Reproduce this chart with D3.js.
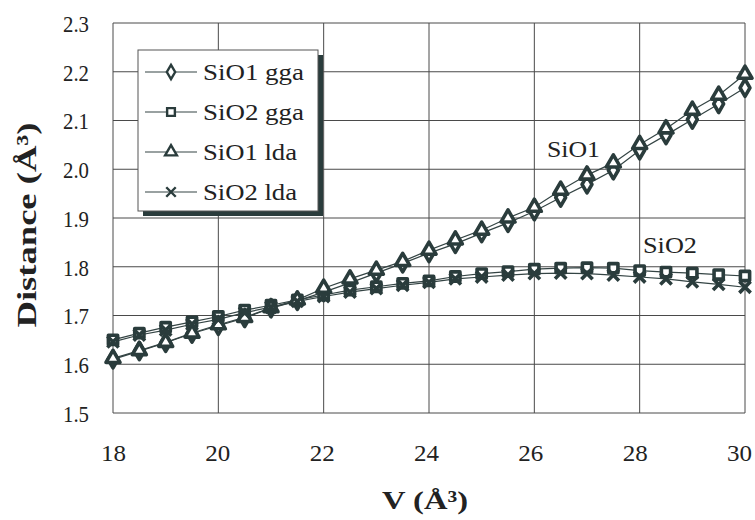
<!DOCTYPE html>
<html>
<head>
<meta charset="utf-8">
<script src="https://cdn.jsdelivr.net/npm/d3@7"></script>
<style>
  html, body { margin: 0; padding: 0; background: #fff; }
  svg text { font-family: "Liberation Serif", "Times New Roman", Times, "Nimbus Roman", "Tinos", serif; fill: #222; }
</style>
</head>
<body>
<svg id="chart" width="755" height="520"></svg>
<script>
// ---- data ----
const volumes = [18, 18.5, 19, 19.5, 20, 20.5, 21, 21.5, 22, 22.5, 23, 23.5, 24, 24.5, 25, 25.5, 26, 26.5, 27, 27.5, 28, 28.5, 29, 29.5, 30];
const sio1Gga = [1.610, 1.627, 1.644, 1.663, 1.679, 1.695, 1.715, 1.730, 1.748, 1.767, 1.787, 1.807, 1.828, 1.847, 1.869, 1.890, 1.914, 1.942, 1.969, 1.998, 2.039, 2.070, 2.102, 2.134, 2.167];
const sio2Gga = [1.650, 1.664, 1.676, 1.687, 1.698, 1.711, 1.721, 1.732, 1.742, 1.752, 1.759, 1.766, 1.771, 1.780, 1.786, 1.790, 1.795, 1.797, 1.798, 1.797, 1.792, 1.789, 1.787, 1.784, 1.781];
const sio1Lda = [1.612, 1.628, 1.645, 1.664, 1.681, 1.696, 1.716, 1.732, 1.756, 1.775, 1.793, 1.811, 1.834, 1.855, 1.875, 1.900, 1.922, 1.957, 1.988, 2.013, 2.051, 2.083, 2.121, 2.152, 2.195];
const sio2Lda = [1.646, 1.660, 1.670, 1.682, 1.692, 1.706, 1.717, 1.729, 1.739, 1.748, 1.755, 1.762, 1.768, 1.775, 1.779, 1.783, 1.786, 1.787, 1.786, 1.783, 1.779, 1.775, 1.769, 1.764, 1.758];
const seriesNames = ["SiO1 gga", "SiO2 gga", "SiO1 lda", "SiO2 lda"];
const xTicks = [18, 20, 22, 24, 26, 28, 30];
const yTicks = [1.5, 1.6, 1.7, 1.8, 1.9, 2.0, 2.1, 2.2, 2.3];
const curveLabels = ["SiO1", "SiO2"];

// ---- layout ----
const W = 755, H = 520;
const margin = {left: 113, right: 10, top: 23, bottom: 107};
const svg = d3.select("#chart");
const x = d3.scaleLinear().domain([18, 30]).range([margin.left, W - margin.right]);
const y = d3.scaleLinear().domain([1.5, 2.3]).range([H - margin.bottom, margin.top]);

const ink = "#2a3c3c";
const gridCol = "#4a4a4a";

// grid
const g = svg.append("g");
g.selectAll("line.v").data(xTicks).join("line")
  .attr("x1", d => x(d)).attr("x2", d => x(d))
  .attr("y1", y(2.3)).attr("y2", y(1.5))
  .attr("stroke", gridCol).attr("stroke-width", 1);
g.selectAll("line.h").data(yTicks).join("line")
  .attr("x1", x(18)).attr("x2", x(30))
  .attr("y1", d => y(d)).attr("y2", d => y(d))
  .attr("stroke", gridCol).attr("stroke-width", 1);

// axes with d3 (labels only)
const xAxis = d3.axisBottom(x).tickValues(xTicks).tickSize(0).tickPadding(0).tickFormat(d3.format("d"));
const yAxis = d3.axisLeft(y).tickValues(yTicks).tickSize(0).tickFormat(d3.format(".1f"));
const xa = svg.append("g").attr("transform", `translate(0,${H - margin.bottom})`).call(xAxis);
xa.select(".domain").remove();
xa.selectAll("text").attr("font-size", 23).attr("fill", "#222").attr("y", 48).attr("dy", 0)
  .attr("x", (d, i) => -i)
  .attr("textLength", 25).attr("lengthAdjust", "spacingAndGlyphs");
const ya = svg.append("g").attr("transform", `translate(${margin.left},0)`).call(yAxis);
ya.select(".domain").remove();
ya.selectAll("text").attr("font-size", 23).attr("fill", "#222").attr("x", -24).attr("dy", "0.36em")
  .attr("textLength", 26).attr("lengthAdjust", "spacingAndGlyphs");

// series
const seriesData = [sio1Gga, sio2Gga, sio1Lda, sio2Lda];
const symbols = [d3.symbolDiamond, d3.symbolSquare, d3.symbolTriangle, d3.symbolTimes || d3.symbolX];
const sizes = [85, 85, 85, 85];
const line = d3.line().x(d => x(d[0])).y(d => y(d[1]));

seriesData.forEach((vals, i) => {
  const pts = volumes.map((v, j) => [v, vals[j]]);
  svg.append("path").datum(pts).attr("d", line)
    .attr("fill", "none").attr("stroke", "#344444").attr("stroke-width", 1.2);
});
seriesData.forEach((vals, i) => {
  const pts = volumes.map((v, j) => [v, vals[j]]);
  svg.append("g").selectAll("path").data(pts).join("path")
    .attr("transform", d => `translate(${x(d[0])},${y(d[1])})`)
    .attr("d", d3.symbol().type(symbols[i]).size(sizes[i]))
    .attr("fill", i === 3 ? "none" : "#fff")
    .attr("stroke", ink).attr("stroke-width", 3.6).attr("stroke-linejoin", "round");
});

// curve labels
svg.append("text").attr("x", 547).attr("y", 157).attr("font-size", 24)
  .attr("textLength", 53).attr("lengthAdjust", "spacingAndGlyphs").text(curveLabels[0]);
svg.append("text").attr("x", 643).attr("y", 253).attr("font-size", 24)
  .attr("textLength", 54).attr("lengthAdjust", "spacingAndGlyphs").text(curveLabels[1]);

// legend
const lg = svg.append("g");
lg.append("rect").attr("x", 143).attr("y", 55).attr("width", 180).attr("height", 161).attr("fill", ink);
lg.append("rect").attr("x", 138).attr("y", 50).attr("width", 180).attr("height", 161)
  .attr("fill", "#fff").attr("stroke", "#555").attr("stroke-width", 1);
const legY = [72, 112, 152, 192];
const legLen = [101, 101, 94, 94];
seriesNames.forEach((name, i) => {
  lg.append("line").attr("x1", 145).attr("x2", 197).attr("y1", legY[i]).attr("y2", legY[i])
    .attr("stroke", "#344444").attr("stroke-width", 1.2);
  lg.append("path").attr("transform", `translate(171,${legY[i]})`)
    .attr("d", d3.symbol().type(symbols[i]).size(60))
    .attr("fill", i === 3 ? "none" : "#fff").attr("stroke", ink).attr("stroke-width", 2.4);
  lg.append("text").attr("x", 203).attr("y", legY[i]).attr("dy", "0.35em").attr("font-size", 24)
    .attr("textLength", legLen[i]).attr("lengthAdjust", "spacingAndGlyphs").text(name);
});

// axis titles
svg.append("text").attr("x", 425).attr("y", 509).attr("text-anchor", "middle")
  .attr("font-size", 26).attr("font-weight", "bold")
  .attr("textLength", 86).attr("lengthAdjust", "spacingAndGlyphs").text("V (Å³)");
svg.append("text").attr("transform", "translate(36,225) rotate(-90)").attr("text-anchor", "middle")
  .attr("font-size", 28).attr("font-weight", "bold")
  .attr("textLength", 205).attr("lengthAdjust", "spacingAndGlyphs").text("Distance (Å³)");
</script>
</body>
</html>
